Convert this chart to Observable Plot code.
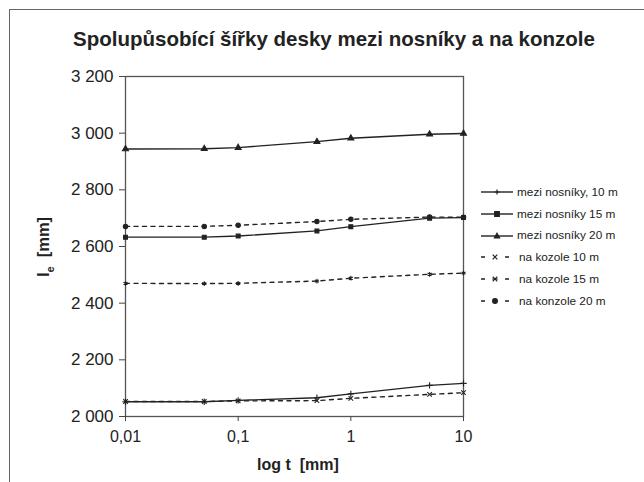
<!DOCTYPE html>
<html><head><meta charset="utf-8">
<script src="https://cdn.jsdelivr.net/npm/d3@7"></script>
<script src="https://cdn.jsdelivr.net/npm/@observablehq/plot@0.6"></script>
<style>
html,body{margin:0;padding:0;background:#fff;overflow:hidden;}
#wrap{position:relative;width:644px;height:482px;font-family:"Liberation Sans",Arial,sans-serif;color:#222;}
#border{position:absolute;left:9px;top:9px;width:700px;height:520px;border:1.5px solid #666;box-sizing:border-box;}
#title{position:absolute;left:0;width:668px;top:27px;text-align:center;font-weight:bold;font-size:20.5px;}
#xlab{position:absolute;left:198px;width:200px;top:456px;text-align:center;font-weight:bold;font-size:16px;}
#ylab{position:absolute;left:45px;top:247px;transform:translate(-50%,-50%) rotate(-90deg);font-weight:bold;font-size:16.5px;white-space:nowrap;}
#legend{position:absolute;left:478px;top:181px;font-size:11.8px;}
.li{display:flex;align-items:center;height:21.8px;}
.li svg{margin-right:3px;}
#plot{position:absolute;left:0;top:0;}
</style></head>
<body><div id="wrap"><div id="border"></div><div id="plot"></div>
<div id="title">Spolupůsobící šířky desky mezi nosníky a na konzole</div>
<div id="xlab">log t&nbsp; [mm]</div>
<div id="ylab">l<sub style="font-size:11px">e</sub>&nbsp; [mm]</div>
<div id="legend"></div>
</div>
<script>
const tValues = [0.01, 0.05, 0.1, 0.5, 1, 5, 10];
const seriesNames = ["mezi nosníky, 10 m","mezi nosníky 15 m","mezi nosníky 20 m","na kozole 10 m","na kozole 15 m","na konzole 20 m"];
const mezi10 = [2052, 2052, 2057, 2066, 2080, 2110, 2117];
const mezi15 = [2633, 2633, 2637, 2655, 2670, 2700, 2702];
const mezi20 = [2944, 2945, 2949, 2970, 2982, 2996, 2999];
const kon10 = [2053, 2053, 2055, 2056, 2064, 2078, 2084];
const kon15 = [2470, 2469, 2470, 2478, 2488, 2502, 2506];
const kon20 = [2671, 2671, 2675, 2688, 2696, 2704, 2703];
const yTicks = [2000, 2200, 2400, 2600, 2800, 3000, 3200];
const xTicks = [0.01, 0.1, 1, 10];
const xTickLabels = ["0,01", "0,1", "1", "10"];

const allValues = [mezi10, mezi15, mezi20, kon10, kon15, kon20];
const symbols = ["plus", "square", "triangle", "times", "asterisk", "circle"];
const dashed = [false, false, false, true, true, true];
const rows = [];
allValues.forEach((vals, s) => vals.forEach((v, i) => rows.push({series: seriesNames[s], s, t: tValues[i], v})));

const ink = "#222";
const marks = [Plot.frame({stroke: "#555", strokeWidth: 1.3})];
seriesNames.forEach((name, s) => {
  const d = rows.filter(r => r.s === s);
  marks.push(Plot.line(d, {x: "t", y: "v", stroke: ink, strokeWidth: 1.4, strokeDasharray: dashed[s] ? "4,4.5" : null}));
  marks.push(Plot.dot(d, {x: "t", y: "v", symbol: () => symbols[s], r: 2.2, stroke: ink, fill: ["square","triangle","circle"].includes(symbols[s]) ? ink : "none", strokeWidth: 1.1}));
});
marks.push(Plot.axisY({ticks: yTicks, tickFormat: n => String(n).replace(/\B(?=(\d{3})+$)/, " "), tickSize: 6, tickPadding: 6, fontSize: 17, label: null, stroke: "#444"}));
marks.push(Plot.axisX({ticks: xTicks, tickFormat: (d, i) => xTickLabels[xTicks.indexOf(d)], tickSize: 5, tickPadding: 9, fontSize: 16, label: null, stroke: "#444"}));

const chart = Plot.plot({
  width: 644, height: 482,
  marginLeft: 125, marginRight: 181, marginTop: 76, marginBottom: 66,
  style: {fontFamily: "'Liberation Sans', Arial, sans-serif", color: ink, background: "transparent"},
  x: {type: "log", domain: [0.01, 10]},
  y: {domain: [2000, 3200]},
  marks
});
document.getElementById("plot").appendChild(chart);

// legend
const leg = document.getElementById("legend");
const symPath = {
  plus: "M-2.5,0H2.5M0,-2.5V2.5",
  square: "M-2.3,-2.3H2.3V2.3H-2.3Z",
  triangle: "M0,-2.8L2.6,2H-2.6Z",
  times: "M-2.3,-2.3L2.3,2.3M-2.3,2.3L2.3,-2.3",
  asterisk: "M-2.3,-2.3L2.3,2.3M-2.3,2.3L2.3,-2.3M-2.8,0H2.8",
  circle: "M-2.4,0A2.4,2.4 0 1,0 2.4,0A2.4,2.4 0 1,0 -2.4,0"
};
seriesNames.forEach((name, s) => {
  const filled = ["square","triangle","circle"].includes(symbols[s]);
  const line = dashed[s]
    ? `<path d="M3,11H7M27,11H31" stroke="${ink}" stroke-width="1.6"/>`
    : `<path d="M3,11H35" stroke="${ink}" stroke-width="1.4"/>`;
  const cx = dashed[s] ? 17 : 19;
  const div = document.createElement("div");
  div.className = "li";
  div.innerHTML = `<svg width="36" height="22">${line}<path transform="translate(${cx},11)" d="${symPath[symbols[s]]}" stroke="${ink}" stroke-width="1.2" fill="${filled ? ink : "none"}"/></svg><span style="margin-left:${dashed[s] ? 2 : 0}px">${name}</span>`;
  leg.appendChild(div);
});
</script></body></html>
